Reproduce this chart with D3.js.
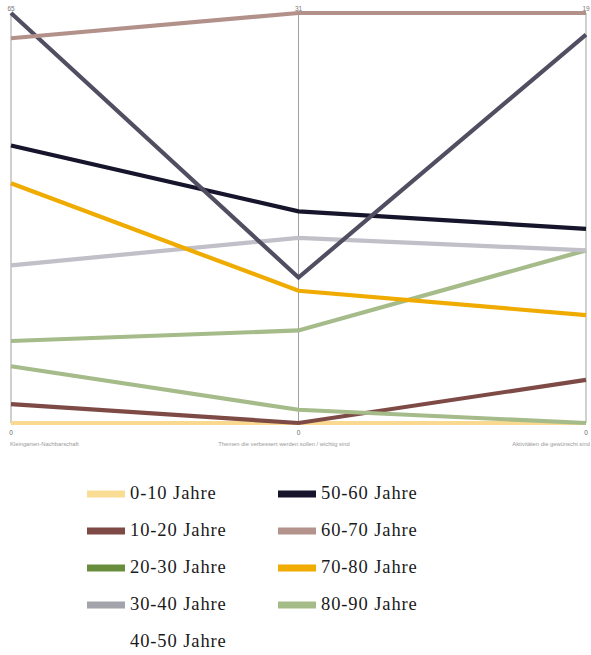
<!DOCTYPE html>
<html>
<head>
<meta charset="utf-8">
<script src="https://cdn.jsdelivr.net/npm/d3@7"></script>
<style>
  html, body { margin: 0; padding: 0; background: #fff; }
  svg { display: block; }
</style>
</head>
<body>
<svg id="chart" width="591" height="655"></svg>
<script>
// Dimensions (parallel axes)
const dimensions = [
  "Kleingarten-Nachbarschaft",
  "Themen die verbessert werden sollen / wichtig sind",
  "Aktivitäten die gewünscht sind"
];
const axisMax = [65, 31, 19];

// Age groups
const groups = [
  "0-10 Jahre", "10-20 Jahre", "20-30 Jahre", "30-40 Jahre", "40-50 Jahre",
  "50-60 Jahre", "60-70 Jahre", "70-80 Jahre", "80-90 Jahre"
];

// Values per group, one per dimension
const v0_10  = [0, 0, 0];
const v10_20 = [3, 0, 2];
const v20_30 = [9, 1, 0];
const v30_40 = [25, 14, 8];
const v40_50 = [65, 11, 18];
const v50_60 = [44, 16, 9];
const v60_70 = [61, 31, 19];
const v70_80 = [38, 10, 5];
const v80_90 = [13, 7, 8];
const seriesValues = [v0_10, v10_20, v20_30, v30_40, v40_50, v50_60, v60_70, v70_80, v80_90];

// Line colours and legend swatch colours
const lineColors = ["#f8d98f", "#7e4a46", "#a5bb89", "#c1bfc8", "#524e61", "#16152b", "#b3918b", "#f0ab00", "#a5bb89"];
const swatchColors = ["#f9dd95", "#7f4a45", "#688e3d", "#a3a3ab", "#ffffff", "#15142a", "#b3938c", "#f0ac00", "#a5bb88"];

// Drawing order (later = on top)
const drawOrder = [0, 1, 2, 8, 3, 7, 5, 4, 6];

const svg = d3.select("#chart");
const plotTop = 13, plotBottom = 423;

const x = d3.scalePoint().domain(dimensions).range([11, 586]);
const yScales = dimensions.map((d, i) =>
  d3.scaleLinear().domain([0, axisMax[i]]).range([plotBottom, plotTop]));

// Axes
const axisG = svg.append("g");
dimensions.forEach((d, i) => {
  const g = axisG.append("g").attr("transform", `translate(${x(d)},0)`);
  g.append("line")
    .attr("y1", yScales[i](axisMax[i]))
    .attr("y2", yScales[i](0))
    .attr("stroke", "#a0a0a0")
    .attr("stroke-width", 1);
  g.append("text")
    .attr("y", 11)
    .attr("text-anchor", "middle")
    .attr("font-family", "Liberation Sans, Arial, sans-serif")
    .attr("font-size", 6.5)
    .attr("fill", "#777")
    .text(axisMax[i]);
  g.append("text")
    .attr("y", 435)
    .attr("text-anchor", "middle")
    .attr("font-family", "Liberation Sans, Arial, sans-serif")
    .attr("font-size", 6.5)
    .attr("fill", "#666")
    .text(0);
});

// Axis titles
const titleAnchor = ["start", "middle", "end"];
const titleX = [10, 284, 590];
dimensions.forEach((d, i) => {
  svg.append("text")
    .attr("x", titleX[i])
    .attr("y", 445.5)
    .attr("text-anchor", titleAnchor[i])
    .attr("font-family", "Liberation Sans, Arial, sans-serif")
    .attr("font-size", 5.8)
    .attr("fill", "#999")
    .text(d);
});

// Lines
const line = d3.line()
  .x(d => x(d.dim))
  .y(d => yScales[d.i](d.v));

svg.append("g").selectAll("path")
  .data(drawOrder)
  .join("path")
  .attr("d", gi => line(seriesValues[gi].map((v, i) => ({dim: dimensions[i], i, v}))))
  .attr("fill", "none")
  .attr("stroke", gi => lineColors[gi])
  .attr("stroke-width", 4.2)
  .attr("stroke-linejoin", "miter")
  .attr("stroke-linecap", "butt");

// Legend
const legend = svg.append("g");
groups.forEach((g, i) => {
  const col = i < 5 ? 0 : 1;
  const row = i < 5 ? i : i - 5;
  const lx = col === 0 ? 87 : 278;
  const cy = 494 + row * 37;
  legend.append("rect")
    .attr("x", lx)
    .attr("y", cy - 3.5)
    .attr("width", 38)
    .attr("height", 7)
    .attr("fill", swatchColors[i]);
  legend.append("text")
    .attr("x", lx + 43)
    .attr("y", cy + 5)
    .attr("font-family", "Liberation Serif, DejaVu Serif, serif")
    .attr("font-size", 18.5)
    .attr("letter-spacing", 0.9)
    .attr("fill", "#1a1a1a")
    .text(g);
});
</script>
</body>
</html>
